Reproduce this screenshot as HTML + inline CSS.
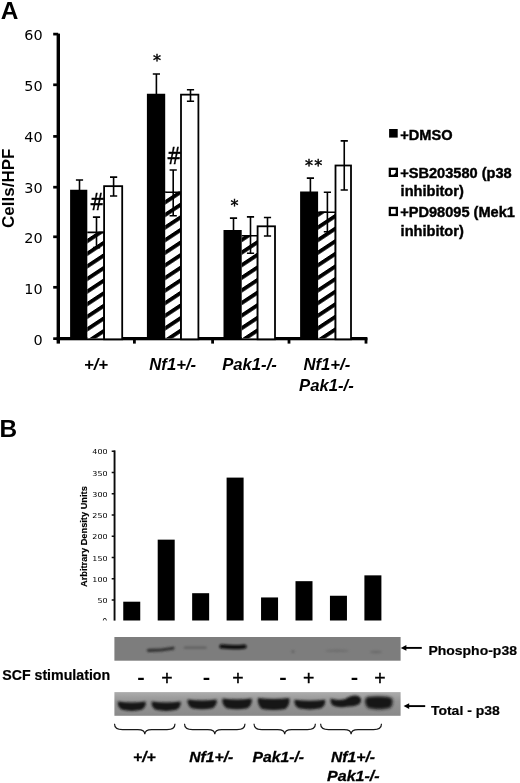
<!DOCTYPE html>
<html lang="en"><head><meta charset="utf-8"><title>Figure</title>
<style>html,body{margin:0;padding:0;background:#fff}svg{display:block}text{font-family:"Liberation Sans",Arial,sans-serif;fill:#000}.dj{font-family:"DejaVu Sans","Liberation Sans",sans-serif}.b{font-weight:bold}.bi{font-weight:bold;font-style:italic}</style></head><body>
<svg width="520" height="783" viewBox="0 0 520 783">
<defs>
<pattern id="hatch" patternUnits="userSpaceOnUse" width="20" height="12.60" patternTransform="translate(0 6.6) skewY(-33.42)">
<rect x="0" y="0" width="20" height="4.60" fill="#000"/>
</pattern>
<filter id="bl1" x="-20%" y="-100%" width="140%" height="300%"><feGaussianBlur stdDeviation="1.1"/></filter>
<filter id="bl2" x="-20%" y="-100%" width="140%" height="300%"><feGaussianBlur stdDeviation="1.6"/></filter>
<linearGradient id="lb" x1="0" y1="0" x2="0" y2="1"><stop offset="0" stop-color="#adadad"/><stop offset="0.4" stop-color="#939393"/><stop offset="1" stop-color="#8a8a8a"/></linearGradient>
</defs>
<rect width="520" height="783" fill="#fff"/>
<text class="b" x="0.8" y="18.6" font-size="24.4">A</text>
<rect x="53.2" y="337.30" width="5" height="2.7" fill="#000"/>
<text class="dj" x="42.6" y="344.85" font-size="14.4" text-anchor="end">0</text>
<rect x="53.2" y="285.95" width="5" height="2.7" fill="#000"/>
<text class="dj" x="42.6" y="293.95" font-size="14.4" text-anchor="end">10</text>
<rect x="53.2" y="235.45" width="5" height="2.7" fill="#000"/>
<text class="dj" x="42.6" y="243.35" font-size="14.4" text-anchor="end">20</text>
<rect x="53.2" y="185.85" width="5" height="2.7" fill="#000"/>
<text class="dj" x="42.6" y="193.05" font-size="14.4" text-anchor="end">30</text>
<rect x="53.2" y="135.05" width="5" height="2.7" fill="#000"/>
<text class="dj" x="42.6" y="142.25" font-size="14.4" text-anchor="end">40</text>
<rect x="53.2" y="83.45" width="5" height="2.7" fill="#000"/>
<text class="dj" x="42.6" y="90.85" font-size="14.4" text-anchor="end">50</text>
<rect x="53.2" y="32.75" width="5" height="2.7" fill="#000"/>
<text class="dj" x="42.6" y="40.25" font-size="14.4" text-anchor="end">60</text>
<rect x="56.6" y="33.6" width="3.4" height="310" fill="#000"/>
<rect x="56.6" y="337" width="310.8" height="3.3" fill="#000"/>
<rect x="133.0" y="338" width="2.8" height="5.6" fill="#000"/>
<rect x="211.2" y="338" width="2.8" height="5.6" fill="#000"/>
<rect x="287.6" y="338" width="2.8" height="5.6" fill="#000"/>
<rect x="364.6" y="338" width="2.8" height="5.6" fill="#000"/>
<text class="b" transform="translate(14.4 188.3) rotate(-90)" font-size="17" text-anchor="middle">Cells/HPF</text>
<rect x="87.30" y="231.60" width="17.70" height="106.80" fill="#fff"/>
<rect x="87.30" y="231.60" width="17.70" height="106.80" fill="url(#hatch)"/>
<path d="M87.30 232.40H104.10V338.40" fill="none" stroke="#000" stroke-width="1.6"/>
<rect x="70.10" y="189.75" width="17.20" height="148.65" fill="#000"/>
<rect x="104.10" y="186.15" width="18.10" height="153.15" fill="#fff" stroke="#000" stroke-width="1.8"/>
<path d="M79.50 180.00V190.75 M75.90 180.00h7.2" stroke="#000" stroke-width="1.6" fill="none"/>
<path d="M96.50 217.10V247.60 M92.90 217.10h7.2 M92.90 247.60h7.2" stroke="#000" stroke-width="1.6" fill="none"/>
<path d="M113.60 177.10V196.00 M110.00 177.10h7.2 M110.00 196.00h7.2" stroke="#000" stroke-width="1.6" fill="none"/>
<rect x="165.20" y="191.50" width="16.70" height="146.90" fill="#fff"/>
<rect x="165.20" y="191.50" width="16.70" height="146.90" fill="url(#hatch)"/>
<path d="M165.20 192.30H181.00V338.40" fill="none" stroke="#000" stroke-width="1.6"/>
<rect x="146.90" y="93.75" width="18.30" height="244.65" fill="#000"/>
<rect x="181.00" y="94.65" width="17.40" height="244.65" fill="#fff" stroke="#000" stroke-width="1.8"/>
<path d="M156.40 74.00V94.75 M152.80 74.00h7.2" stroke="#000" stroke-width="1.6" fill="none"/>
<path d="M173.20 170.00V215.75 M169.60 170.00h7.2 M169.60 215.75h7.2" stroke="#000" stroke-width="1.6" fill="none"/>
<path d="M190.50 89.75V101.25 M186.90 89.75h7.2 M186.90 101.25h7.2" stroke="#000" stroke-width="1.6" fill="none"/>
<rect x="241.70" y="235.00" width="16.80" height="103.40" fill="#fff"/>
<rect x="241.70" y="235.00" width="16.80" height="103.40" fill="url(#hatch)"/>
<path d="M241.70 235.80H257.60V338.40" fill="none" stroke="#000" stroke-width="1.6"/>
<rect x="223.50" y="230.00" width="18.20" height="108.40" fill="#000"/>
<rect x="257.60" y="226.30" width="17.40" height="113.00" fill="#fff" stroke="#000" stroke-width="1.8"/>
<path d="M233.50 218.10V231.00 M229.90 218.10h7.2" stroke="#000" stroke-width="1.6" fill="none"/>
<path d="M250.50 216.90V253.30 M246.90 216.90h7.2 M246.90 253.30h7.2" stroke="#000" stroke-width="1.6" fill="none"/>
<path d="M267.50 217.50V236.00 M263.90 217.50h7.2 M263.90 236.00h7.2" stroke="#000" stroke-width="1.6" fill="none"/>
<rect x="318.10" y="211.40" width="18.30" height="127.00" fill="#fff"/>
<rect x="318.10" y="211.40" width="18.30" height="127.00" fill="url(#hatch)"/>
<path d="M318.10 212.20H335.50V338.40" fill="none" stroke="#000" stroke-width="1.6"/>
<rect x="300.10" y="191.50" width="18.00" height="146.90" fill="#000"/>
<rect x="335.50" y="165.50" width="15.50" height="173.80" fill="#fff" stroke="#000" stroke-width="1.8"/>
<path d="M310.40 178.10V192.50 M306.80 178.10h7.2" stroke="#000" stroke-width="1.6" fill="none"/>
<path d="M327.40 192.25V231.75 M323.80 192.25h7.2 M323.80 231.75h7.2" stroke="#000" stroke-width="1.6" fill="none"/>
<path d="M344.25 140.90V190.00 M340.65 140.90h7.2 M340.65 190.00h7.2" stroke="#000" stroke-width="1.6" fill="none"/>
<text class="dj" font-size="16" text-anchor="middle" stroke="#000" stroke-width="0.45" x="157" y="66.2">*</text>
<text class="dj" font-size="16" text-anchor="middle" stroke="#000" stroke-width="0.45" x="234.4" y="211.2">*</text>
<text class="dj" font-size="16" text-anchor="middle" stroke="#000" stroke-width="0.45" x="314.3" y="170.9" letter-spacing="1.4">**</text>
<text class="dj" transform="translate(97.1 210.3) scale(0.8 1)" font-size="23.6" text-anchor="middle" stroke="#000" stroke-width="0.3">#</text>
<text class="dj" transform="translate(174.2 163.8) scale(0.8 1)" font-size="23.6" text-anchor="middle" stroke="#000" stroke-width="0.3">#</text>
<text class="bi" x="96.0" y="370" font-size="16.7" text-anchor="middle">+/+</text>
<text class="bi" x="172.7" y="370" font-size="16.7" text-anchor="middle">Nf1+/-</text>
<text class="bi" x="249.5" y="370" font-size="16.7" text-anchor="middle">Pak1-/-</text>
<text class="bi" x="326.8" y="370" font-size="16.7" text-anchor="middle">Nf1+/-</text>
<text class="bi" x="326.4" y="390.6" font-size="16.7" text-anchor="middle">Pak1-/-</text>
<rect x="389.1" y="129" width="8.6" height="8.6" fill="#000"/>
<text class="b" font-size="14.6" stroke="#000" stroke-width="0.4" transform="translate(400.2 140.0) scale(1 0.96)">+DMSO</text>
<rect x="389.85" y="168.85" width="7.0" height="7.0" fill="#fff" stroke="#000" stroke-width="2.3"/>
<path d="M393 175.4 L396.2 172.2 V175.4Z" fill="#000"/>
<text class="b" font-size="14.6" stroke="#000" stroke-width="0.4" transform="translate(400.2 178.1) scale(1 0.96)">+SB203580 (p38</text>
<text class="b" font-size="14.6" stroke="#000" stroke-width="0.4" transform="translate(400.6 196.0) scale(1 0.96)">inhibitor)</text>
<rect x="389.85" y="207.95" width="7.0" height="7.0" fill="#fff" stroke="#000" stroke-width="2.3"/>
<text class="b" font-size="14.6" stroke="#000" stroke-width="0.4" transform="translate(400.2 217.2) scale(1 0.96)">+PD98095 (Mek1</text>
<text class="b" font-size="14.6" stroke="#000" stroke-width="0.4" transform="translate(400.6 235.9) scale(1 0.96)">inhibitor)</text>
<text class="b" x="-0.4" y="437.2" font-size="24.4">B</text>
<g>
<rect x="111.7" y="599.25" width="3" height="1.5" fill="#111"/>
<text class="dj" transform="translate(107.6 603.10) scale(1 0.86)" font-size="8" text-anchor="end" fill="#2a2a2a">50</text>
<rect x="111.7" y="578.00" width="3" height="1.5" fill="#111"/>
<text class="dj" transform="translate(107.6 581.85) scale(1 0.86)" font-size="8" text-anchor="end" fill="#2a2a2a">100</text>
<rect x="111.7" y="556.75" width="3" height="1.5" fill="#111"/>
<text class="dj" transform="translate(107.6 560.60) scale(1 0.86)" font-size="8" text-anchor="end" fill="#2a2a2a">150</text>
<rect x="111.7" y="535.50" width="3" height="1.5" fill="#111"/>
<text class="dj" transform="translate(107.6 539.35) scale(1 0.86)" font-size="8" text-anchor="end" fill="#2a2a2a">200</text>
<rect x="111.7" y="514.25" width="3" height="1.5" fill="#111"/>
<text class="dj" transform="translate(107.6 518.10) scale(1 0.86)" font-size="8" text-anchor="end" fill="#2a2a2a">250</text>
<rect x="111.7" y="493.00" width="3" height="1.5" fill="#111"/>
<text class="dj" transform="translate(107.6 496.85) scale(1 0.86)" font-size="8" text-anchor="end" fill="#2a2a2a">300</text>
<rect x="111.7" y="471.75" width="3" height="1.5" fill="#111"/>
<text class="dj" transform="translate(107.6 475.60) scale(1 0.86)" font-size="8" text-anchor="end" fill="#2a2a2a">350</text>
<rect x="111.7" y="450.50" width="3" height="1.5" fill="#111"/>
<text class="dj" transform="translate(107.6 454.35) scale(1 0.86)" font-size="8" text-anchor="end" fill="#2a2a2a">400</text>
<rect x="113.6" y="450.4" width="1.9" height="170.2" fill="#0a0a0a"/>
<rect x="123.25" y="601.70" width="17" height="18.80" fill="#000"/>
<rect x="157.70" y="539.65" width="17" height="80.85" fill="#000"/>
<rect x="192.15" y="593.20" width="17" height="27.30" fill="#000"/>
<rect x="226.60" y="477.60" width="17" height="142.90" fill="#000"/>
<rect x="261.05" y="597.45" width="17" height="23.05" fill="#000"/>
<rect x="295.50" y="581.17" width="17" height="39.33" fill="#000"/>
<rect x="329.95" y="595.75" width="17" height="24.75" fill="#000"/>
<rect x="364.40" y="575.35" width="17" height="45.15" fill="#000"/>
</g>
<svg x="94.1" y="616" width="14" height="4.6" overflow="hidden"><text class="dj" x="13.3" y="8.6" font-size="8" text-anchor="end" fill="#444">0</text></svg>
<text class="b" transform="translate(86.5 536.6) rotate(-90)" font-size="9.25" stroke="#000" stroke-width="0.15" text-anchor="middle">Arbitrary Density Units</text>
<rect x="114.4" y="637" width="286.2" height="23.7" fill="#7d7d7d"/>
<g filter="url(#bl1)">
<path d="M148.5 650.4 Q160 650.6 173 648.2" stroke="#303030" stroke-width="3.2" stroke-linecap="round" fill="none"/>
<path d="M185 647.6 H205.5" stroke="#606060" stroke-width="2.4" stroke-linecap="round" fill="none"/>
<path d="M221.5 646.4 Q233 647.8 244.5 646.6" stroke="#0c0c0c" stroke-width="4.4" stroke-linecap="round" fill="none"/>
<ellipse cx="337" cy="650.7" rx="12" ry="1.5" fill="#6f6f6f"/>
<ellipse cx="376" cy="652" rx="6" ry="1.5" fill="#6c6c6c"/>
<ellipse cx="293" cy="651.6" rx="1.4" ry="1.6" fill="#626262"/>
</g>
<rect x="114.4" y="692.1" width="286.2" height="23.7" fill="url(#lb)"/>
<g filter="url(#bl1)" fill="#181818">
<path d="M118.0 701.6 Q131.8 703.6 145.6 701.6 Q146.8 707.0 141.6 709.8 Q131.8 712.0 122.0 709.8 Q116.8 707.0 118.0 701.6Z"/>
<path d="M151.8 701.4 Q166.2 703.4 180.5 701.4 Q181.7 706.9 176.5 709.8 Q166.2 712.0 155.8 709.8 Q150.6 706.9 151.8 701.4Z"/>
<path d="M187.7 699.6 Q202.1 701.6 216.6 699.6 Q217.8 705.2 212.6 708.2 Q202.1 710.4 191.7 708.2 Q186.5 705.2 187.7 699.6Z"/>
<path d="M222.5 698.6 Q237.1 700.6 251.6 698.6 Q252.8 704.7 247.6 708.2 Q237.1 710.4 226.5 708.2 Q221.3 704.7 222.5 698.6Z"/>
<path d="M258.0 698.0 Q273.6 700.0 289.3 698.0 Q290.5 704.8 285.3 709.0 Q273.6 711.2 262.0 709.0 Q256.8 704.8 258.0 698.0Z"/>
<path d="M294.6 699.8 Q309.8 701.8 325.0 699.8 Q326.2 705.3 321.0 708.3 Q309.8 710.5 298.6 708.3 Q293.4 705.3 294.6 699.8Z"/>
<path d="M330.6 698.6 Q338 701 345.5 699 Q350 695.2 356 695.4 Q361.8 696.2 361 701.5 Q359.4 706.6 348 706.6 Q338 708.4 332.3 705.2 Q329.8 702 330.6 698.6Z"/>
</g>
<g filter="url(#bl2)" fill="#161616">
<path d="M365.4 698.4 Q366 696 378 696.2 Q391 696 392.4 699 Q393.6 706 389.3 708.3 Q379 710.6 368.6 708.3 Q364 705 365.4 698.4Z"/>
</g>
<path d="M403.8 647.9H421.8" stroke="#000" stroke-width="1.9"/><path d="M400.8 647.9l5.6 -2.9v5.8z" fill="#000"/>
<text class="b" transform="translate(428.4 654.9) scale(1 0.93)" font-size="14" stroke="#000" stroke-width="0.2">Phospho-p38</text>
<path d="M406.6 706.1H425.2" stroke="#000" stroke-width="1.9"/><path d="M403.6 706.1l5.6 -2.9v5.8z" fill="#000"/>
<text class="b" transform="translate(430.9 714.8) scale(1 0.95)" font-size="14" stroke="#000" stroke-width="0.2">Total - p38</text>
<text class="b" x="2.2" y="680.2" font-size="14.2" stroke="#000" stroke-width="0.2">SCF stimulation</text>
<text class="b" transform="translate(141.0 683.8) scale(1.28 1)" font-size="17.5" text-anchor="middle">-</text>
<text class="b" transform="translate(206.4 683.8) scale(1.28 1)" font-size="17.5" text-anchor="middle">-</text>
<text class="b" transform="translate(283.1 683.8) scale(1.28 1)" font-size="17.5" text-anchor="middle">-</text>
<text class="b" transform="translate(354.6 683.8) scale(1.28 1)" font-size="17.5" text-anchor="middle">-</text>
<text x="167.0" y="684.8" font-size="19.5" text-anchor="middle" stroke="#000" stroke-width="0.4">+</text>
<text x="238.0" y="684.8" font-size="19.5" text-anchor="middle" stroke="#000" stroke-width="0.4">+</text>
<text x="308.8" y="684.8" font-size="19.5" text-anchor="middle" stroke="#000" stroke-width="0.4">+</text>
<text x="380.0" y="684.8" font-size="19.5" text-anchor="middle" stroke="#000" stroke-width="0.4">+</text>
<path d="M114.5 723.7 C114.5 728.1 117.5 729.6 122.5 729.6 H137.8 C141.8 729.6 144.8 730.6 144.8 734.3 C144.8 730.6 147.8 729.6 151.8 729.6 H167.0 C172.0 729.6 175.0 728.1 175.0 723.7" stroke="#1a1a1a" stroke-width="1.2" fill="none"/>
<path d="M184.5 723.7 C184.5 728.1 187.5 729.6 192.5 729.6 H207.8 C211.8 729.6 214.8 730.6 214.8 734.3 C214.8 730.6 217.8 729.6 221.8 729.6 H237.0 C242.0 729.6 245.0 728.1 245.0 723.7" stroke="#1a1a1a" stroke-width="1.2" fill="none"/>
<path d="M254.0 723.7 C254.0 728.1 257.0 729.6 262.0 729.6 H277.7 C281.7 729.6 284.7 730.6 284.7 734.3 C284.7 730.6 287.7 729.6 291.7 729.6 H307.4 C312.4 729.6 315.4 728.1 315.4 723.7" stroke="#1a1a1a" stroke-width="1.2" fill="none"/>
<path d="M320.6 723.7 C320.6 728.1 323.6 729.6 328.6 729.6 H344.1 C348.1 729.6 351.1 730.6 351.1 734.3 C351.1 730.6 354.1 729.6 358.1 729.6 H373.5 C378.5 729.6 381.5 728.1 381.5 723.7" stroke="#1a1a1a" stroke-width="1.2" fill="none"/>
<text class="bi" font-size="15.7" text-anchor="middle" stroke="#000" stroke-width="0.3" transform="translate(144.4 762.1) scale(1 0.95)">+/+</text>
<text class="bi" font-size="15.7" text-anchor="middle" stroke="#000" stroke-width="0.3" transform="translate(211.3 762.1) scale(1 0.95)">Nf1+/-</text>
<text class="bi" font-size="15.7" text-anchor="middle" stroke="#000" stroke-width="0.3" transform="translate(278.3 762.1) scale(1 0.95)">Pak1-/-</text>
<text class="bi" font-size="15.7" text-anchor="middle" stroke="#000" stroke-width="0.3" transform="translate(353.0 762.1) scale(1 0.95)">Nf1+/-</text>
<text class="bi" font-size="15.7" text-anchor="middle" stroke="#000" stroke-width="0.3" transform="translate(353.3 781.2) scale(1.02 0.95)">Pak1-/-</text>
</svg></body></html>
